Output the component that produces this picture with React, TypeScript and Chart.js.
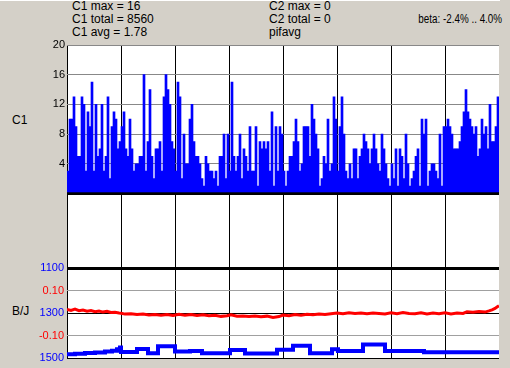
import React, { useEffect, useRef } from 'react';
import { Chart, registerables } from 'chart.js';

Chart.register(...registerables);

// ---- data ----
const SAMPLE_COUNT = 216;
const X_STEP = 27;

const C1_VALUES = [
  3, 10, 10, 13, 9, 5, 5, 13, 12, 3, 11, 9, 15, 3, 12, 5, 6, 12, 3, 5,
  13, 2, 9, 11, 10, 6, 7, 9, 11, 6, 5, 10, 6, 3, 4, 4, 5, 5, 16, 3,
  7, 14, 5, 2, 6, 6, 7, 3, 13, 16, 14, 12, 7, 6,
  3, 15, 13, 2, 8, 4, 4, 10, 12, 7, 5, 5, 4, 2, 1, 5, 4, 3, 3, 2,
  3, 1, 5, 5, 8, 2, 8, 3, 15, 5, 3, 5, 8, 2, 6, 5, 3, 9, 3, 3,
  9, 1, 7, 6, 7, 6, 7, 3, 11, 1, 9, 3, 9, 8,
  3, 1, 3, 5, 5, 7, 10, 7, 3, 4, 9, 9, 9, 5, 12, 10, 8, 6, 1, 2,
  5, 4, 10, 3, 4, 13, 10, 3, 9, 13, 8, 3, 2, 4, 2, 6, 6, 2, 5, 6,
  8, 7, 6, 4, 6, 8, 6, 4, 3, 8, 6, 4, 2, 1,
  4, 2, 6, 1, 6, 5, 2, 8, 4, 1, 2, 3, 5, 6, 1, 10, 8, 10, 1, 3,
  4, 4, 3, 2, 8, 1, 9, 9, 10, 9, 8, 6, 6, 6, 7, 9, 11, 14, 11, 10,
  9, 8, 9, 5, 6, 10, 8, 9, 6, 12, 7, 7, 9, 13,
];

const C1_TICKS = [4, 8, 12, 16, 20];

const RED_X = [
  0, 2, 4, 6, 8, 10, 12, 14, 16, 18, 20, 22, 24, 26, 27, 29, 32, 35, 38, 41,
  44, 47, 50, 53, 56, 59, 62, 65, 68, 71, 74, 77, 80, 82, 85, 88, 91, 94, 97, 100,
  103, 106, 108, 111, 114, 117, 120, 123, 126, 129, 132, 135, 138, 141, 144, 147, 150, 153, 156, 159,
  162, 165, 168, 171, 174, 177, 180, 183, 186, 189, 192, 195, 198, 200, 203, 206, 209, 211, 212.5, 214,
  215, 216,
];
const RED_VALUES = [
  0.017, 0.012, 0.018, 0.011, 0.014, 0.009, 0.012, 0.007, 0.010, 0.005,
  0.008, 0.003, 0.004, 0.001, 0.000, -0.004, -0.002, -0.006, -0.004, -0.008,
  -0.006, -0.009, -0.006, -0.010, -0.005, -0.009, -0.006, -0.010, -0.007, -0.011,
  -0.009, -0.014, -0.011, -0.007, -0.013, -0.012, -0.015, -0.012, -0.016, -0.013,
  -0.019, -0.015, -0.008, -0.011, -0.006, -0.009, -0.005, -0.007, -0.004, -0.006,
  -0.002, 0.001, -0.002, 0.002, -0.001, 0.001, -0.002, 0.001, -0.001, -0.003,
  0.002, -0.002, 0.003, -0.001, -0.002, 0.002, -0.003, 0.001, -0.002, 0.002,
  -0.003, 0.001, -0.001, 0.006, 0.004, 0.008, 0.005, 0.010, 0.015, 0.021,
  0.027, 0.033,
];

const BLUE_X = [
  0, 4, 9, 14, 19, 22.5, 25, 26.5, 27, 35, 40.5, 45.5, 54, 61.5, 67.5, 81.5,
  89, 105, 113, 121.5, 132.5, 135.5, 148, 159, 178.5, 216,
];
const BLUE_VALUES = [
  1482, 1479, 1476, 1474, 1470, 1466, 1460, 1452, 1472, 1458, 1477, 1446, 1470, 1467, 1477, 1463,
  1478, 1462, 1444, 1477, 1460, 1467, 1438, 1467, 1473, 1473,
];

const BJ_TICK_VALUES = [0.2, 0.1, 0, -0.1, -0.2];
const BJ_TICK_LABELS = ['1100', '0.10', '1300', '-0.10', '1500'];
const BJ_TICK_COLORS = ['#0000ff', '#ff0000', '#0000ff', '#ff0000', '#0000ff'];

const HEADER_C1 = ['C1 max = 16', 'C1 total = 8560', 'C1 avg = 1.78'];
const HEADER_C2 = ['C2 max = 0', 'C2 total = 0', 'pifavg'];
const HEADER_BETA = 'beta: -2.4% .. 4.0%';

// ---- style ----
const FONT = "'Liberation Sans', Arial, sans-serif";
const BG = '#d4d0c8';

const whiteArea = {
  id: 'whiteArea',
  beforeDraw(chart: any) {
    const { ctx, chartArea: a } = chart;
    ctx.save();
    ctx.fillStyle = '#ffffff';
    ctx.fillRect(a.left, a.top, a.right - a.left, a.bottom - a.top);
    ctx.restore();
  },
};

function xScale(): any {
  return {
    type: 'linear',
    min: 0,
    max: SAMPLE_COUNT,
    offset: false,
    ticks: { display: false, stepSize: X_STEP },
    grid: {
      color: (c: any) => (c.tick && c.tick.value >= SAMPLE_COUNT ? 'rgba(0,0,0,0)' : '#000000'),
      lineWidth: 1,
      drawTicks: false,
      offset: false,
    },
    border: { display: false },
    afterFit: (s: any) => {
      s.height = 0;
    },
    z: 1,
  };
}

function tickKey(v: number) {
  return Math.round(v * 100);
}

export default function App() {
  const topRef = useRef<HTMLCanvasElement>(null);
  const midRef = useRef<HTMLCanvasElement>(null);
  const botRef = useRef<HTMLCanvasElement>(null);

  useEffect(() => {
    const charts: Chart[] = [];

    charts.push(
      new Chart(midRef.current!, {
        type: 'line',
        data: { datasets: [] },
        plugins: [whiteArea],
        options: {
          animation: false,
          responsive: false,
          events: [],
          layout: { padding: { left: 67, right: 11, top: 6, bottom: 6 } },
          plugins: { legend: { display: false }, tooltip: { enabled: false } },
          scales: {
            x: xScale(),
            y: { display: false, min: 0, max: 1 },
          },
        },
      } as any)
    );

    charts.push(
      new Chart(topRef.current!, {
        type: 'bar',
        data: {
          datasets: [
            {
              data: C1_VALUES.map((v, i) => ({ x: i + 0.5, y: v })),
              backgroundColor: '#0000ff',
              borderWidth: 0,
              barPercentage: 1,
              categoryPercentage: 1,
            },
          ],
        },
        plugins: [whiteArea],
        options: {
          animation: false,
          responsive: false,
          events: [],
          layout: { padding: { left: 0, right: 11, top: 10, bottom: 8 } },
          plugins: { legend: { display: false }, tooltip: { enabled: false } },
          scales: {
            x: xScale(),
            y: {
              min: 0,
              max: 20,
              ticks: {
                stepSize: 4,
                padding: 2,
                color: '#000000',
                font: { family: FONT, size: 11 },
                callback: (v: any) => (C1_TICKS.includes(Number(v)) ? String(v) : ''),
              },
              grid: {
                color: (c: any) => (c.tick && c.tick.value === 0 ? '#000000' : '#888888'),
                lineWidth: (c: any) => (c.tick && c.tick.value === 0 ? 3 : 1),
                drawTicks: false,
              },
              border: { display: false },
              afterFit: (s: any) => {
                s.width = 67;
              },
              z: 1,
            },
          },
        },
      } as any)
    );

    const gridColor = (v: number) => {
      const k = Math.abs(tickKey(v));
      if (k === 20 || k === 0) return '#000000';
      if (k === 10) return '#a0a0a0';
      return '#e2e2e2';
    };

    charts.push(
      new Chart(botRef.current!, {
        type: 'line',
        data: {
          datasets: [
            {
              data: BLUE_X.map((x, i) => ({ x, y: BLUE_VALUES[i] })),
              yAxisID: 'yB',
              borderColor: '#0000ff',
              borderWidth: 4,
              pointRadius: 0,
              stepped: true,
              fill: false,
            },
            {
              data: RED_X.map((x, i) => ({ x, y: RED_VALUES[i] })),
              yAxisID: 'y',
              borderColor: '#ff0000',
              borderWidth: 3,
              pointRadius: 0,
              tension: 0,
              fill: false,
            },
          ],
        },
        plugins: [whiteArea],
        options: {
          animation: false,
          responsive: false,
          events: [],
          layout: { padding: { left: 0, right: 11, top: 10, bottom: 7 } },
          plugins: { legend: { display: false }, tooltip: { enabled: false } },
          scales: {
            x: xScale(),
            y: {
              min: -0.2,
              max: 0.2,
              ticks: {
                stepSize: 0.05,
                padding: 3,
                font: { family: FONT, size: 11 },
                color: (c: any) => {
                  const idx = BJ_TICK_VALUES.findIndex((t) => tickKey(t) === tickKey(c.tick.value));
                  return idx >= 0 ? BJ_TICK_COLORS[idx] : '#000000';
                },
                callback: (v: any) => {
                  const idx = BJ_TICK_VALUES.findIndex((t) => tickKey(t) === tickKey(Number(v)));
                  return idx >= 0 ? BJ_TICK_LABELS[idx] : '';
                },
              },
              grid: {
                color: (c: any) => gridColor(c.tick ? c.tick.value : 0),
                lineWidth: (c: any) => (c.tick && tickKey(c.tick.value) === 20 ? 3 : 1),
                drawTicks: false,
              },
              border: { display: false },
              afterFit: (s: any) => {
                s.width = 67;
              },
              z: 1,
            },
            yB: {
              display: false,
              position: 'right',
              reverse: true,
              min: 1100,
              max: 1500,
            },
          },
        },
      } as any)
    );

    return () => {
      charts.forEach((c) => c.destroy());
    };
  }, []);

  const textStyle: React.CSSProperties = {
    position: 'absolute',
    fontFamily: FONT,
    fontSize: 12,
    lineHeight: '13px',
    color: '#000',
    whiteSpace: 'pre',
  };

  return (
    <div
      style={{
        position: 'fixed',
        left: 0,
        top: 0,
        width: 510,
        height: 368,
        background: BG,
        overflow: 'hidden',
      }}
    >
      <div style={{ position: 'absolute', left: 0, top: 0, width: 500, height: 1, background: '#ffffff' }} />
      <div style={{ ...textStyle, left: 72, top: 0 }}>
        {HEADER_C1.map((t) => (
          <div key={t}>{t}</div>
        ))}
      </div>
      <div style={{ ...textStyle, left: 269, top: 0 }}>
        {HEADER_C2.map((t) => (
          <div key={t}>{t}</div>
        ))}
      </div>
      <div
        style={{
          ...textStyle,
          right: 8,
          top: 13,
          transform: 'scaleX(0.82)',
          transformOrigin: 'right center',
        }}
      >
        {HEADER_BETA}
      </div>
      <div style={{ ...textStyle, left: 12, top: 114 }}>C1</div>
      <div style={{ ...textStyle, left: 12, top: 305 }}>B/J</div>
      <canvas
        ref={midRef}
        width={510}
        height={86}
        style={{ position: 'absolute', left: 0, top: 188, width: 510, height: 86 }}
      />
      <canvas
        ref={topRef}
        width={510}
        height={167}
        style={{ position: 'absolute', left: 0, top: 35, width: 510, height: 167 }}
      />
      <canvas
        ref={botRef}
        width={510}
        height={110}
        style={{ position: 'absolute', left: 0, top: 258, width: 510, height: 110 }}
      />
    </div>
  );
}
